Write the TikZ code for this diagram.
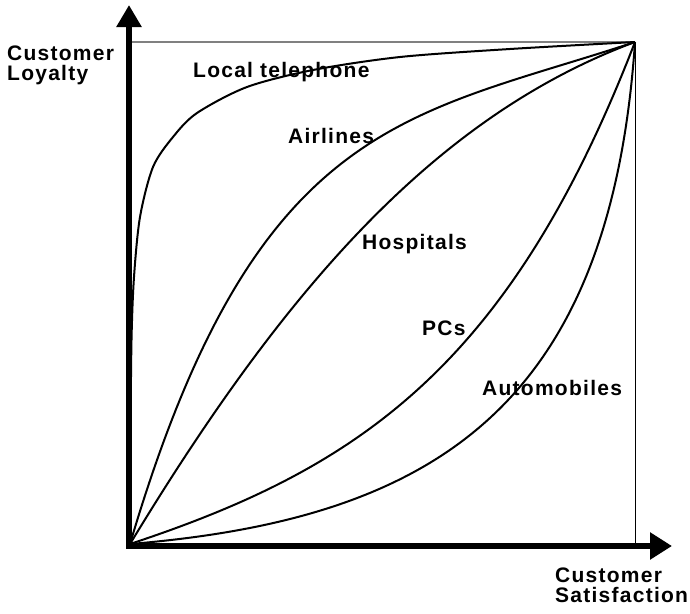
\documentclass[tikz,border=0pt]{standalone}
\usepackage{fontspec}
\setmainfont{Liberation Sans}
\newfontfamily\rotulo[LetterSpace=6]{Liberation Sans Bold}
\usetikzlibrary{arrows.meta}

\begin{document}
\begin{tikzpicture}[x=1pt, y=-1pt,
    every node/.style={font=\rotulo\fontsize{21}{20}\selectfont, inner sep=0pt, anchor=base west, align=left},
    curva/.style={line width=2pt, line join=round}]
  \useasboundingbox (0,0) rectangle (690,613);
  % Puntos
  \coordinate (o) at (129,546);
  \coordinate (ey) at (129,5);
  \coordinate (ex) at (672,546);
  \coordinate (ini) at (130,544);
  \coordinate (fin) at (635,42);
  \coordinate (esq) at (131,42);
  \coordinate (pie) at (635,546);

  % Marco
  \draw[gray, line width=1.5pt] (esq) -- (fin);
  \draw[line width=1pt] (fin) -- (pie);

  % Curvas
  \draw[curva] plot[smooth] coordinates {(ini) (130.5,440) (131.5,340) (134,277) (140,217) (153,167) (173,137) (197,113) (247,87) (313,70) (400,57) (510,49) (fin)};
  \draw[curva] (ini) .. controls (256,117) and (408,117) .. (fin);
  \draw[curva] (ini) .. controls (282,293) and (433,117) .. (fin);
  \draw[curva] (ini) .. controls (357,469) and (509,368) .. (fin);
  \draw[curva] (ini) .. controls (433,519) and (610,408) .. (fin);

  % Ejes
  \draw[line width=6pt, {Triangle[length=22pt,width=24pt]}-{Triangle[length=22pt,width=26pt]}] (ey) -- (o) -- (ex);

  % Etiquetas
  \node (tel) at (193,77) {Local telephone};
  \node (air) at (288,143) {Airlines};
  \node (hos) at (362,249) {Hospitals};
  \node (pcs) at (422,335) {PCs};
  \node (aut) at (482,395) {Automobiles};
  \node (lea) at (7,80) {Customer\\Loyalty};
  \node (sat) at (555,602) {Customer\\Satisfaction};
\end{tikzpicture}
\end{document}
